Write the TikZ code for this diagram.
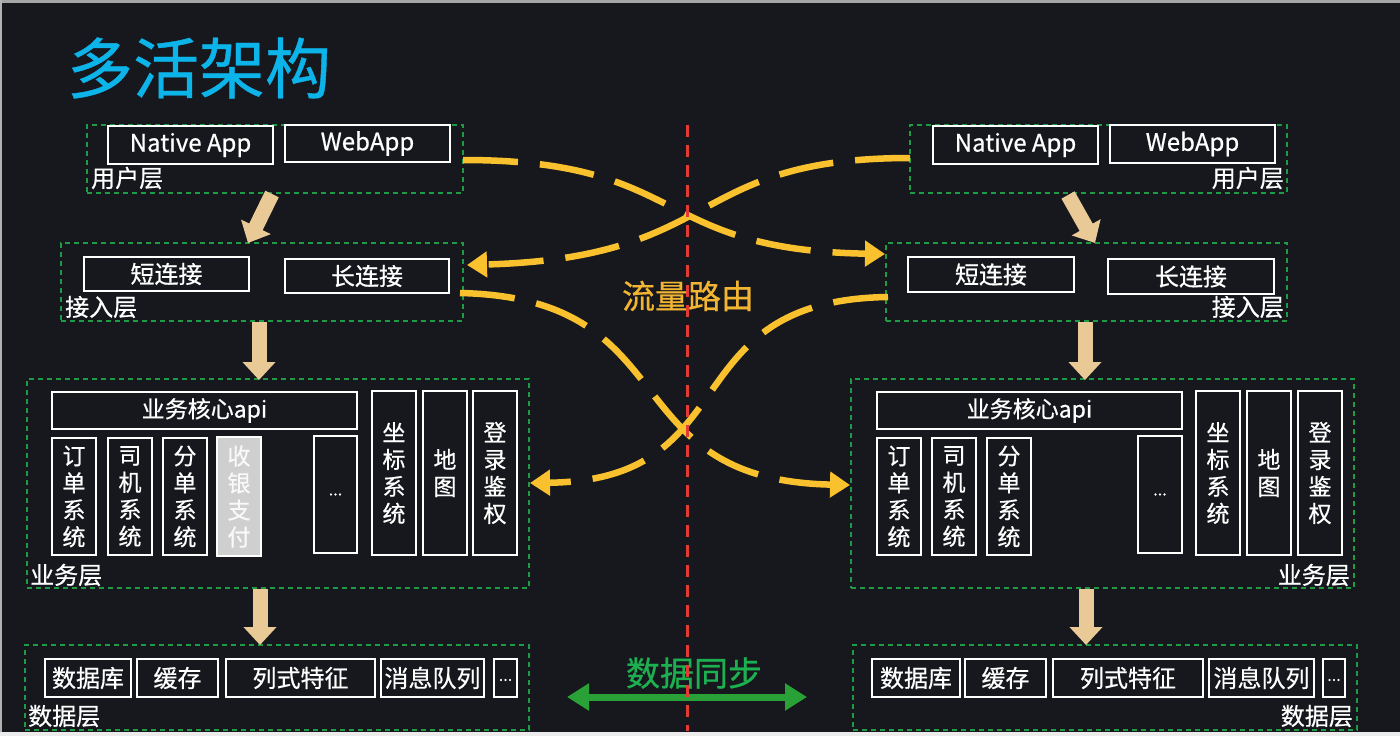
\documentclass[tikz,border=0pt]{standalone}
\usepackage{fontspec}
\setmainfont{Noto Sans CJK SC}
\newfontfamily\mf{Noto Sans CJK SC}[FakeBold=0.6]
\usetikzlibrary{arrows.meta}
\definecolor{bg}{HTML}{16181D}
\definecolor{grpgreen}{HTML}{1F9A45}
\definecolor{flowy}{HTML}{F9C12E}
\definecolor{flowt}{HTML}{F2B531}
\definecolor{beige}{HTML}{E9C995}
\definecolor{redl}{HTML}{E53935}
\definecolor{syncg}{HTML}{2AA136}
\definecolor{synct}{HTML}{1DB050}
\definecolor{titlec}{HTML}{0CB4E9}
\definecolor{paygray}{HTML}{CFCFCF}
\tikzset{
  box/.style={draw=white, line width=1.6pt, fill=bg, inner sep=0pt, text=white, font=\mf\fontsize{24}{27}\selectfont},
  vbox/.style={box, align=center, font=\mf\fontsize{23}{27}\selectfont},
  grp/.style={draw=grpgreen, dash pattern=on 5pt off 4pt, line width=1.3pt, inner sep=0pt},
  lbl/.style={text=white, font=\mf\fontsize{24}{26}\selectfont, inner sep=0pt},
  flow/.style={draw=flowy, line width=6.5pt, dash pattern=on 55pt off 22pt, -{Triangle[length=20pt,width=25pt]}},
  fat/.style={draw=beige, line width=15pt, -{Triangle[length=18pt,width=32pt]}},
}
\begin{document}
\begin{tikzpicture}[x=1pt,y=-1pt]
\useasboundingbox (0,0) rectangle (1400,736);
\fill[bg] (0,0) rectangle (1400,736);
\fill[gray!70] (0,0) rectangle (1400,3);
\fill[gray!60] (0,0) rectangle (2,736);
\fill[gray!15] (0,732) rectangle (1400,736);

% title
\node[text=titlec, font=\mf\fontsize{66}{70}\selectfont, inner sep=0pt] (title) at (199,68) {多活架构};

% ---------- left side groups ----------
\node[grp, minimum width=376pt, minimum height=68pt] (lu) at (275,159) {};
\node[grp, minimum width=402pt, minimum height=78pt] (la) at (262,282) {};
\node[grp, minimum width=502pt, minimum height=209pt] (lb) at (278,483.5) {};
\node[grp, minimum width=504pt, minimum height=85pt] (ld) at (277,687.5) {};

\node[box, minimum width=165pt, minimum height=38pt] (lua) at (190.5,145) {Native App};
\node[box, minimum width=165pt, minimum height=37pt] (lub) at (367.5,143.5) {WebApp};
\node[lbl, anchor=west] (lul) at (91,178) {用户层};

\node[box, minimum width=165pt, minimum height=34pt] (las) at (166.5,274) {短连接};
\node[box, minimum width=164pt, minimum height=34pt] (lal) at (367,276) {长连接};
\node[lbl, anchor=west] (lal2) at (65,307) {接入层};

\node[box, font=\mf\fontsize{23}{26}\selectfont, minimum width=305pt, minimum height=37pt] (lapi) at (204.5,410.5) {业务核心api};
\node[vbox, minimum width=44pt, minimum height=117pt] (lv1) at (74,496.5) {订\\单\\系\\统};
\node[vbox, minimum width=44pt, minimum height=117pt] (lv2) at (130,496.5) {司\\机\\系\\统};
\node[vbox, minimum width=44pt, minimum height=117pt] (lv3) at (185,496.5) {分\\单\\系\\统};
\node[vbox, fill=paygray, text=white!95!gray, minimum width=44pt, minimum height=119pt] (lv4) at (239,496.5) {收\\银\\支\\付};
\node[box, font=\mf\fontsize{16}{18}\selectfont, minimum width=43pt, minimum height=117pt] (lv5) at (335.5,494.5) {...};
\node[vbox, minimum width=44pt, minimum height=164pt] (lv6) at (394,473) {坐\\标\\系\\统};
\node[vbox, minimum width=44pt, minimum height=164pt] (lv7) at (445,473) {地\\图};
\node[vbox, minimum width=44pt, minimum height=164pt] (lv8) at (495,473) {登\\录\\鉴\\权};
\node[lbl, anchor=west] (lbl3) at (30,575) {业务层};

\node[box, minimum width=86pt, minimum height=38pt] (ld1) at (88,678) {数据库};
\node[box, minimum width=81pt, minimum height=38pt] (ld2) at (177.5,678) {缓存};
\node[box, minimum width=149pt, minimum height=38pt] (ld3) at (300.5,678) {列式特征};
\node[box, minimum width=103pt, minimum height=38pt] (ld4) at (432.5,678) {消息队列};
\node[box, minimum width=23pt, minimum height=38pt, font=\mf\fontsize{16}{18}\selectfont] (ld5) at (505.5,678) {\raisebox{-6pt}{...}};
\node[lbl, anchor=west] (lbl4) at (28,716) {数据层};

% ---------- right side groups ----------
\node[grp, minimum width=377pt, minimum height=68pt] (ru) at (1098.5,159) {};
\node[grp, minimum width=401pt, minimum height=78pt] (ra) at (1086.5,282) {};
\node[grp, minimum width=503pt, minimum height=209pt] (rb) at (1102.5,483.5) {};
\node[grp, minimum width=504pt, minimum height=85pt] (rd) at (1105,687.5) {};

\node[box, minimum width=165pt, minimum height=38pt] (rua) at (1015.5,145) {Native App};
\node[box, minimum width=165pt, minimum height=38pt] (rub) at (1192.5,144) {WebApp};
\node[lbl, anchor=east] (rul) at (1284,178) {用户层};

\node[box, minimum width=166pt, minimum height=35pt] (ras) at (991,274.5) {短连接};
\node[box, minimum width=166pt, minimum height=35pt] (ral) at (1191,276.5) {长连接};
\node[lbl, anchor=east] (ral2) at (1284,307) {接入层};

\node[box, font=\mf\fontsize{23}{26}\selectfont, minimum width=305pt, minimum height=37pt] (rapi) at (1029.5,410.5) {业务核心api};
\node[vbox, minimum width=44pt, minimum height=117pt] (rv1) at (899,496.5) {订\\单\\系\\统};
\node[vbox, minimum width=44pt, minimum height=117pt] (rv2) at (954,496.5) {司\\机\\系\\统};
\node[vbox, minimum width=44pt, minimum height=117pt] (rv3) at (1009,496.5) {分\\单\\系\\统};
\node[box, font=\mf\fontsize{16}{18}\selectfont, minimum width=44pt, minimum height=117pt] (rv5) at (1160,494.5) {...};
\node[vbox, minimum width=44pt, minimum height=164pt] (rv6) at (1218,473) {坐\\标\\系\\统};
\node[vbox, minimum width=44pt, minimum height=164pt] (rv7) at (1269,473) {地\\图};
\node[vbox, minimum width=44pt, minimum height=164pt] (rv8) at (1320,473) {登\\录\\鉴\\权};
\node[lbl, anchor=east] (rbl3) at (1350,575) {业务层};

\node[box, minimum width=88pt, minimum height=38pt] (rd1) at (916,678) {数据库};
\node[box, minimum width=81pt, minimum height=38pt] (rd2) at (1005.5,678) {缓存};
\node[box, minimum width=150pt, minimum height=38pt] (rd3) at (1128,678) {列式特征};
\node[box, minimum width=105pt, minimum height=38pt] (rd4) at (1261.5,678) {消息队列};
\node[box, minimum width=22pt, minimum height=38pt, font=\mf\fontsize{16}{18}\selectfont] (rd5) at (1334,678) {\raisebox{-6pt}{...}};
\node[lbl, anchor=east] (rbl4) at (1353,716) {数据层};

% ---------- fat layer arrows ----------
\coordinate (f1s) at (272,194); \coordinate (f1e) at (248,243);
\coordinate (f2s) at (1068,195); \coordinate (f2e) at (1095,243);
\draw[fat] (f1s) -- (f1e);
\draw[fat] (f2s) -- (f2e);
\draw[fat] (259,322) coordinate (f3s) -- (259,380) coordinate (f3e);
\draw[fat] (260,589) coordinate (f4s) -- (260,645) coordinate (f4e);
\draw[fat] (1085,322) coordinate (f5s) -- (1085,380) coordinate (f5e);
\draw[fat] (1086,589) coordinate (f6s) -- (1086,645) coordinate (f6e);

% ---------- traffic routing curves ----------
\coordinate (aS) at (463,160); \coordinate (aE) at (885,254);
\coordinate (bS) at (910,158); \coordinate (bE) at (467,265);
\coordinate (cS) at (460,293); \coordinate (cE) at (850,485);
\coordinate (dS) at (888,297); \coordinate (dE) at (530,483);
\draw[flow] (aS) .. controls (690,160) and (650,250) .. (aE);
\draw[flow] (bS) .. controls (685,158) and (725,258) .. (bE);
\draw[flow] (cS) .. controls (690,298) and (610,480) .. (cE);
\draw[flow] (dS) .. controls (670,300) and (750,480) .. (dE);

\node[text=flowt, font=\mf\fontsize{33}{36}\selectfont, inner sep=0pt] (route) at (688,296) {流量路由};

% ---------- data sync ----------
\node[text=synct, font=\mf\fontsize{34}{36}\selectfont, inner sep=0pt] (sync) at (694,673) {数据同步};
\coordinate (gS) at (567,697); \coordinate (gE) at (807,697);
\draw[syncg, line width=7pt, {Triangle[length=22pt,width=26pt]}-{Triangle[length=22pt,width=26pt]}] (gS) -- (gE);

% ---------- red divider ----------
\coordinate (rS) at (687,125); \coordinate (rE) at (687,731);
\draw[redl, line width=3pt, dash pattern=on 12pt off 8pt] (rS) -- (rE);
\end{tikzpicture}
\end{document}
